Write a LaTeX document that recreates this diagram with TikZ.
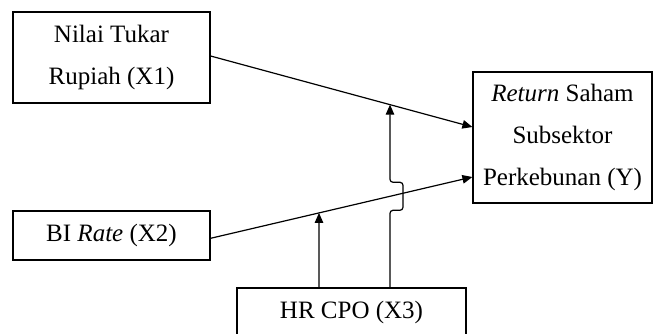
\documentclass[tikz,border=0pt]{standalone}
\usepackage{fontspec}
\setmainfont{Liberation Serif}
\usetikzlibrary{arrows.meta,calc}
\begin{document}
\begin{tikzpicture}[x=1pt,y=-1pt,
  box/.style={draw,line width=1.2pt,inner sep=0pt,align=center,
    font=\fontsize{25}{42}\selectfont},
  arr/.style={line width=1.2pt,-{Triangle[length=10pt,width=8.5pt]}},
  ln/.style={line width=1.2pt}]
\useasboundingbox (0,0) rectangle (654,334);
\node[box,minimum width=197pt,minimum height=91pt] (x1) at (111.5,57.5) {Nilai Tukar\\Rupiah (X1)};
\node[box,minimum width=197pt,minimum height=49pt] (x2) at (111.5,235.5) {BI \textit{Rate} (X2)};
\node[box,minimum width=179pt,minimum height=131pt] (y) at (562.5,137.5) {\textit{Return} Saham\\Subsektor\\Perkebunan (Y)};
\node[box,minimum width=229pt,minimum height=48pt] (x3) at (351.5,312) {HR CPO (X3)};
\coordinate (a1s) at ([yshift=1.5pt]x1.east);
\coordinate (a1e) at ([yshift=10.5pt]y.west);
\coordinate (a2s) at ([yshift=-2.8pt]x2.east);
\coordinate (a2e) at ([yshift=-39.5pt]y.west);
\coordinate (v1b) at ([xshift=38.5pt]x3.north);
\coordinate (v2b) at ([xshift=-32.5pt]x3.north);
\coordinate (v1t) at (390,0);
\coordinate (v2t) at (319,0);
\coordinate (m1) at (intersection of a1s--a1e and v1b--v1t);
\coordinate (m2) at (intersection of a2s--a2e and v2b--v2t);
\coordinate (j) at (intersection of a2s--a2e and v1b--v1t);
\draw[arr] (a1s) -- (a1e);
\draw[arr] (a2s) -- (a2e);
\draw[arr] (v2b) -- (m2);
\draw[arr,rounded corners=3pt] (v1b) -- ($(j)+(0,14)$) -- ($(j)+(13,14)$) -- ($(j)+(13,-14)$) -- ($(j)+(0,-14)$) -- (m1);
\end{tikzpicture}
\end{document}
